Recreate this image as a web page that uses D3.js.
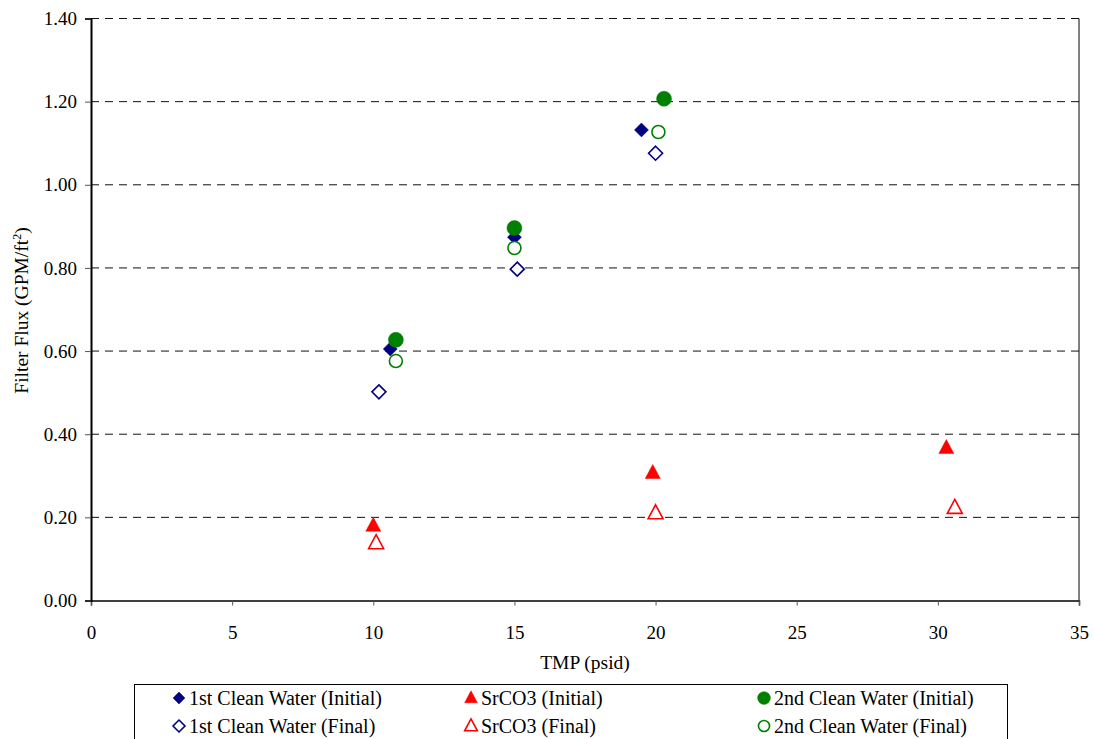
<!DOCTYPE html>
<html>
<head>
<meta charset="utf-8">
<script src="https://cdn.jsdelivr.net/npm/d3@7"></script>
<style>
  html, body { margin: 0; padding: 0; background: #fff; }
  svg text { font-family: "Liberation Serif", "Times New Roman", serif; }
</style>
</head>
<body>
<svg id="chart" width="1094" height="739"></svg>
<script>
// Filter flux vs. transmembrane pressure
const seriesNames = [
  "1st Clean Water (Initial)",
  "SrCO3 (Initial)",
  "2nd Clean Water (Initial)",
  "1st Clean Water (Final)",
  "SrCO3 (Final)",
  "2nd Clean Water (Final)"
];
const cw1InitialTMP = [10.6, 15.0, 19.5];
const cw1InitialFlux = [0.605, 0.874, 1.132];
const cw1FinalTMP = [10.2, 15.1, 20.0];
const cw1FinalFlux = [0.502, 0.797, 1.076];
const srInitialTMP = [10.0, 19.9, 30.3];
const srInitialFlux = [0.180, 0.307, 0.367];
const srFinalTMP = [10.1, 20.0, 30.6];
const srFinalFlux = [0.138, 0.210, 0.223];
const cw2InitialTMP = [10.8, 15.0, 20.3];
const cw2InitialFlux = [0.627, 0.896, 1.207];
const cw2FinalTMP = [10.8, 15.0, 20.1];
const cw2FinalFlux = [0.576, 0.848, 1.127];
const xTicks = [0, 5, 10, 15, 20, 25, 30, 35];
const yTicks = [0, 0.2, 0.4, 0.6, 0.8, 1.0, 1.2, 1.4];

const navy = "#000080", red = "#ff0000", green = "#008000";
const FONT = "'Liberation Serif', 'Times New Roman', serif";

const series = [
  { name: seriesNames[0], x: cw1InitialTMP, y: cw1InitialFlux, shape: "diamond", color: navy, filled: true },
  { name: seriesNames[3], x: cw1FinalTMP, y: cw1FinalFlux, shape: "diamond", color: navy, filled: false },
  { name: seriesNames[1], x: srInitialTMP, y: srInitialFlux, shape: "triangle", color: red, filled: true },
  { name: seriesNames[4], x: srFinalTMP, y: srFinalFlux, shape: "triangle", color: red, filled: false },
  { name: seriesNames[2], x: cw2InitialTMP, y: cw2InitialFlux, shape: "circle", color: green, filled: true },
  { name: seriesNames[5], x: cw2FinalTMP, y: cw2FinalFlux, shape: "circle", color: green, filled: false }
];

const svg = d3.select("#chart");
const m = { left: 91, right: 1079, top: 18.5, bottom: 600.5 };

const x = d3.scaleLinear().domain([0, 35]).range([m.left, m.right]);
const y = d3.scaleLinear().domain([0, 1.4]).range([m.bottom, m.top]);

// dashed horizontal gridlines
svg.append("g")
  .selectAll("line")
  .data(yTicks.filter(d => d > 0))
  .join("line")
  .attr("x1", m.left).attr("x2", m.right)
  .attr("y1", d => y(d)).attr("y2", d => y(d))
  .attr("stroke", "#111")
  .attr("stroke-width", 1)
  .attr("stroke-dasharray", "8,6");

// right border of plot area
svg.append("line")
  .attr("x1", m.right).attr("x2", m.right)
  .attr("y1", y(1.4)).attr("y2", m.bottom)
  .attr("stroke", "#000").attr("stroke-width", 1);

// axes
const xAxis = d3.axisBottom(x).tickValues(xTicks).tickFormat(d3.format("d")).tickSize(5).tickPadding(20);
const yAxis = d3.axisLeft(y).tickValues(yTicks).tickFormat(d3.format(".2f")).tickSize(6).tickPadding(8);

const gx = svg.append("g").attr("transform", `translate(0,${m.bottom})`).call(xAxis);
const gy = svg.append("g").attr("transform", `translate(${m.left},0)`).call(yAxis);

[gx, gy].forEach(g => {
  g.attr("font-family", FONT).attr("font-size", 19);
  g.select(".domain").attr("stroke", "#000").attr("stroke-width", 1.5);
  g.selectAll(".tick line").attr("stroke", "#555");
  g.selectAll(".tick text").attr("fill", "#000");
});
gy.select(".domain").attr("stroke-width", 2);

// axis titles
svg.append("text")
  .attr("x", 585)
  .attr("y", 669)
  .attr("text-anchor", "middle")
  .attr("font-family", FONT)
  .attr("font-size", 19.5)
  .text("TMP (psid)");

const yt = svg.append("text")
  .attr("transform", `translate(28,${(m.top + m.bottom) / 2 + 1}) rotate(-90)`)
  .attr("text-anchor", "middle")
  .attr("font-family", FONT)
  .attr("font-size", 19.5);
yt.append("tspan").text("Filter Flux (GPM/ft");
yt.append("tspan").attr("dy", -7).attr("font-size", 12).text("2");
yt.append("tspan").attr("dy", 7).text(")");

// marker shapes
function drawMarker(g, s, cx, cy, scale) {
  let path;
  if (s.shape === "diamond") {
    const r = 7 * scale;
    path = `M0,${-r}L${r},0L0,${r}L${-r},0Z`;
  } else if (s.shape === "triangle") {
    const w = 7.5 * scale, h = 14 * scale;
    path = `M0,${-h * 0.6}L${w},${h * 0.4}L${-w},${h * 0.4}Z`;
  } else {
    const r = (s.filled ? 7.5 : 6.5) * scale;
    path = `M${r},0A${r},${r} 0 1,1 ${-r},0A${r},${r} 0 1,1 ${r},0Z`;
  }
  g.append("path")
    .attr("d", path)
    .attr("transform", `translate(${cx},${cy})`)
    .attr("fill", s.filled ? s.color : "#fff")
    .attr("stroke", s.color)
    .attr("stroke-width", s.filled ? 0.5 : 1.6);
}

// points
const gp = svg.append("g");
series.forEach(s => {
  s.x.forEach((xv, i) => drawMarker(gp, s, x(xv), y(s.y[i]), 1));
});

// legend
const lg = svg.append("g");
lg.append("rect")
  .attr("x", 134.5).attr("y", 684.5)
  .attr("width", 873).attr("height", 70)
  .attr("fill", "#fff").attr("stroke", "#000").attr("stroke-width", 1);

const legendOrder = [series[0], series[2], series[4], series[1], series[3], series[5]];
const colX = [179, 471, 764];
const rowY = [698, 726];
legendOrder.forEach((s, i) => {
  const col = i % 3, row = Math.floor(i / 3);
  drawMarker(lg, s, colX[col], rowY[row], 0.85);
  lg.append("text")
    .attr("x", colX[col] + 10)
    .attr("y", rowY[row] + 7)
    .attr("font-family", FONT)
    .attr("font-size", 20)
    .text(s.name);
});
</script>
</body>
</html>
